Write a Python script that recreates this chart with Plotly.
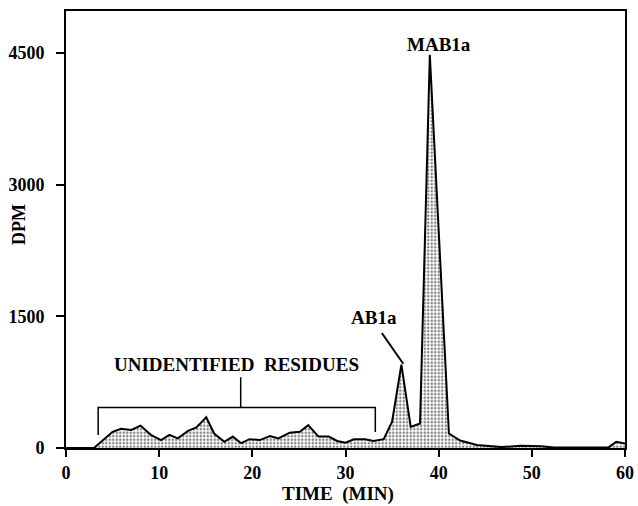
import plotly.graph_objects as go

time_min = [0, 3.0, 5.0, 5.9, 7.0, 8.0, 9.1, 10.2, 11.1, 12.0, 13.1, 14.0, 15.05, 15.9, 17.0,
            17.9, 18.8, 19.7, 20.8, 21.9, 22.8, 24.0, 25.1, 26.0, 27.1, 28.2, 29.1, 30.0,
            30.9, 32.1, 33.0, 34.1, 35.0, 36.0, 37.0, 38.0, 39.05, 41.1, 42.3, 44.1, 46.7,
            48.8, 51.0, 52.4, 58.2, 59.05, 60.0]
dpm = [0, 0, 185, 220, 205, 255, 150, 90, 150, 110, 195, 235, 350, 165, 70,
       130, 55, 100, 90, 135, 110, 175, 185, 260, 130, 130, 80, 60,
       100, 100, 80, 100, 300, 950, 240, 280, 4480, 165, 85, 35, 10,
       25, 20, 5, 5, 70, 50]

x_ticks = [0, 10, 20, 30, 40, 50, 60]
y_ticks = [0, 1500, 3000, 4500]

# annotation geometry (data coordinates)
bracket_x = [3.45, 3.45, 33.2, 33.2]
bracket_y = [147, 461, 461, 181]
stem_x = [18.75, 18.75]
stem_y = [461, 807]
ab1a_leader_x = [33.9, 36.2]
ab1a_leader_y = [1310, 960]

FONT = "Liberation Serif"
W, H = 638, 506
L, R, T, B = 66, 13, 11, 58

fig = go.Figure()
fig.add_trace(go.Scatter(
    x=time_min, y=dpm, mode="lines", fill="tozeroy",
    line=dict(color="black", width=2),
    fillcolor="white",
    fillpattern=dict(shape=".", size=3.5, solidity=0.4, fgcolor="black", bgcolor="white"),
    hoverinfo="skip", showlegend=False,
))
fig.add_trace(go.Scatter(x=bracket_x, y=bracket_y, mode="lines",
                         line=dict(color="black", width=1.5), showlegend=False, hoverinfo="skip"))
fig.add_trace(go.Scatter(x=stem_x, y=stem_y, mode="lines",
                         line=dict(color="black", width=1.5), showlegend=False, hoverinfo="skip"))
fig.add_trace(go.Scatter(x=ab1a_leader_x, y=ab1a_leader_y, mode="lines",
                         line=dict(color="black", width=2), showlegend=False, hoverinfo="skip"))

fig.add_annotation(x=18.3, y=951, text="<b>UNIDENTIFIED  RESIDUES</b>", showarrow=False,
                   font=dict(family=FONT, size=19, color="black"), xanchor="center", yanchor="middle")
fig.add_annotation(x=33.1, y=1483, text="<b>AB1a</b>", showarrow=False,
                   font=dict(family=FONT, size=19, color="black"), xanchor="center", yanchor="middle")
fig.add_annotation(x=40.0, y=4603, text="<b>MAB1a</b>", showarrow=False,
                   font=dict(family=FONT, size=19, color="black"), xanchor="center", yanchor="middle")
fig.add_annotation(xref="paper", yref="paper",
                   x=(338 - L) / (W - L - R), y=(H - B - 493.5) / (H - T - B),
                   text="<b>TIME  (MIN)</b>", showarrow=False, borderpad=0,
                   font=dict(family=FONT, size=19, color="black"), xanchor="center", yanchor="middle")
fig.add_annotation(xref="paper", yref="paper",
                   x=(19 - L) / (W - L - R), y=(H - B - 225) / (H - T - B),
                   text="<b>DPM</b>", showarrow=False, textangle=-90,
                   font=dict(family=FONT, size=18, color="black"), xanchor="center", yanchor="middle")

fig.update_layout(
    width=W, height=H,
    margin=dict(l=L, r=R, t=T, b=B, autoexpand=False),
    paper_bgcolor="white", plot_bgcolor="white",
    font=dict(family=FONT, size=18, color="black"),
    xaxis=dict(range=[0, 60], tickvals=x_ticks, ticktext=[f"<b>{v}</b>" for v in x_ticks],
               ticks="outside", ticklen=7, tickwidth=2, tickcolor="black",
               showline=True, linecolor="black", linewidth=2, mirror=True,
               showgrid=False, zeroline=False, automargin=False, ticklabelstandoff=0),
    yaxis=dict(range=[0, 4980], tickvals=y_ticks, ticktext=[f"<b>{v}</b>" for v in y_ticks],
               ticks="outside", ticklen=8, tickwidth=2, tickcolor="black",
               showline=True, linecolor="black", linewidth=2, mirror=True,
               showgrid=False, zeroline=False, automargin=False, ticklabelstandoff=8),
)

fig.write_html("out.html", config={"displayModeBar": False},
               post_script="document.body.style.margin='0';document.body.style.padding='0';")
